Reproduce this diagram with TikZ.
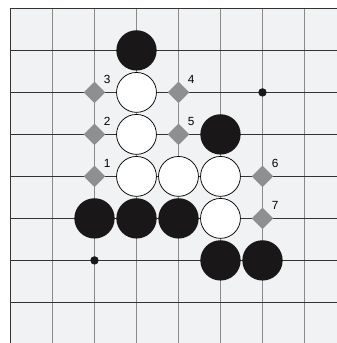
\documentclass[tikz,border=0pt]{standalone}
\usepackage{xcolor}
\usepackage{fontspec}
\setsansfont{Liberation Sans}
\usepackage{tikz}
\usetikzlibrary{shapes.geometric}
\definecolor{boardgray}{HTML}{F1F2F4}
\definecolor{vlinegray}{HTML}{8A8A8A}
\definecolor{hlinegray}{HTML}{333333}
\definecolor{markgray}{HTML}{8E8F91}
\definecolor{stoneblack}{HTML}{1A1718}

\tikzset{
    blackstone/.style={circle, fill=stoneblack, inner sep=0pt, minimum size=0.96cm},
    whitestone/.style={circle, draw=black, line width=0.5pt, fill=white, inner sep=0pt, minimum size=0.95cm},
    hoshi/.style={circle, fill=stoneblack, inner sep=0pt, minimum size=0.2cm},
    markbox/.style={diamond, fill=markgray, inner sep=0pt, minimum size=0.52cm},
    marklabel/.style={font=\sffamily\fontsize{8}{9}\selectfont, inner sep=0pt}
}

\begin{document}
\begin{tikzpicture}[x=1cm, y=-1cm]
    \useasboundingbox (0,0) rectangle (8.024,8.167);
    \fill[white] (0,0) rectangle (8.024,8.167);
    \fill[boardgray] (0.25,0.2) rectangle (8.024,8.167);
    % grid
    \foreach \c in {1,...,7}
      \draw[vlinegray, line width=1pt] (0.25+\c,0.2) -- (0.25+\c,8.167);
    \foreach \r in {1,...,7}
      \draw[hlinegray, line width=0.7pt] (0.25,0.2+\r) -- (8.024,0.2+\r);
    \draw[hlinegray, line width=1pt] (0.25,8.167) -- (0.25,0.2) -- (8.024,0.2);
    % star points
    \node[hoshi] (hoshiA) at (6.25,2.2) {};
    \node[hoshi] (hoshiB) at (2.25,6.2) {};
    % stones
    \foreach \c/\r [count=\i] in {3/1, 5/3, 2/5, 3/5, 4/5, 5/6, 6/6}
      \node[blackstone] (b\i) at (0.25+\c,0.2+\r) {};
    \foreach \c/\r [count=\i] in {3/2, 3/3, 3/4, 4/4, 5/4, 5/5}
      \node[whitestone] (w\i) at (0.25+\c,0.2+\r) {};
    % marked points
    \foreach \c/\r/\n in {2/4/1, 2/3/2, 2/2/3, 4/2/4, 4/3/5, 6/4/6, 6/5/7} {
      \node[markbox] (m\n) at (0.25+\c,0.2+\r) {};
      \node[marklabel] (l\n) at ([shift={(0.3,-0.3)}]m\n.center) {\n};
    }
\end{tikzpicture}
\end{document}
